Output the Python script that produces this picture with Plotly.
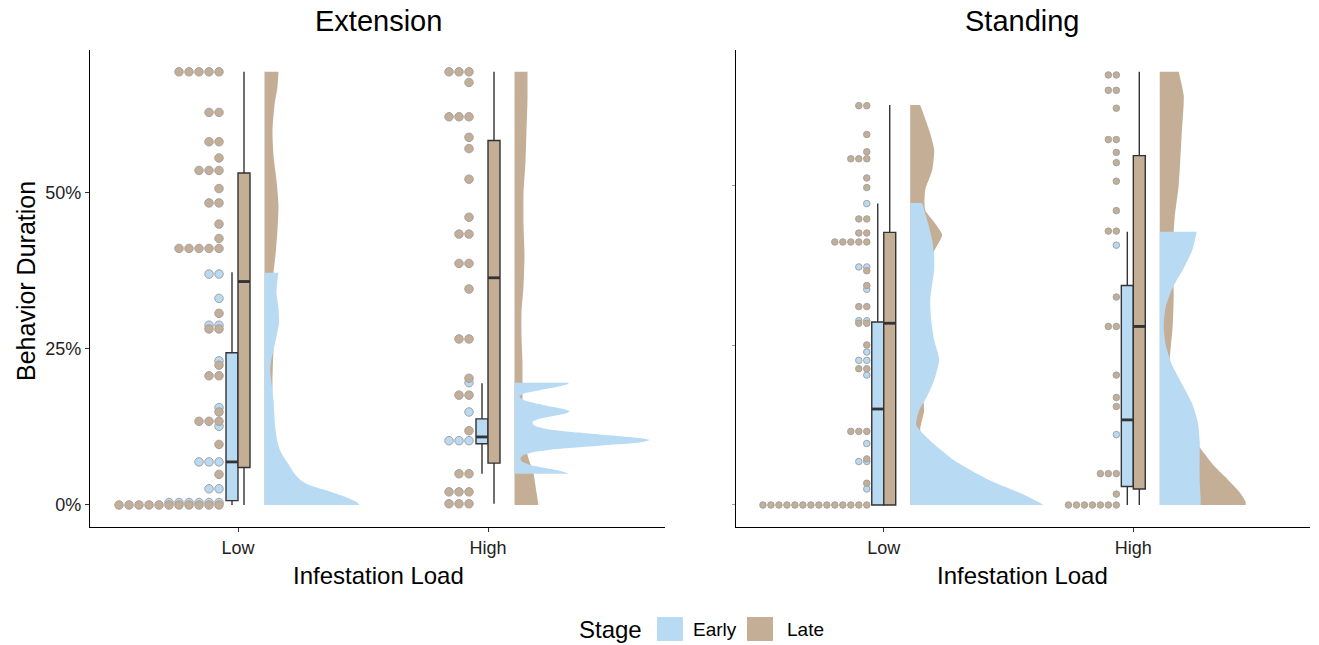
import plotly.graph_objects as go

# ---------------- data (values in percent) ----------------
facets = ["Extension", "Standing"]
categories = ["Low", "High"]
stages = ["Early", "Late"]

# dot plots: bin levels and number of dots per level
ext_low_early_lv = [37.0, 33.1, 28.8, 23.1, 15.6, 12.6, 6.9, 2.6, 0.4]
ext_low_early_n = [2, 1, 2, 1, 1, 1, 3, 2, 6]
ext_low_late_lv = [69.4, 62.9, 58.2, 55.6, 53.6, 50.7, 48.4, 45.0, 42.7, 41.1,
                   30.7, 28.2, 22.4, 20.7, 14.9, 13.4, 9.7, 4.9, 0.0]
ext_low_late_n = [5, 2, 2, 1, 3, 1, 2, 1, 1, 5, 1, 2, 1, 2, 1, 3, 1, 1, 11]
ext_high_early_lv = [19.6, 14.9, 10.3]
ext_high_early_n = [1, 1, 3]
ext_high_late_lv = [69.4, 67.7, 62.2, 58.9, 57.1, 52.2, 46.1, 43.4, 38.7, 34.6,
                    26.6, 20.3, 17.6, 11.9, 5.0, 2.1, 0.2]
ext_high_late_n = [3, 1, 3, 1, 1, 1, 1, 2, 2, 1, 2, 1, 2, 1, 2, 3, 3]

std_low_early_lv = [47.1, 37.2, 33.7, 28.8, 23.9, 22.6, 20.3, 9.6, 6.8, 2.5]
std_low_early_n = [1, 2, 1, 2, 1, 2, 1, 1, 2, 1]
std_low_late_lv = [62.4, 57.9, 55.2, 54.1, 51.1, 49.6, 44.7, 42.5, 41.1, 36.6,
                   34.3, 31.0, 28.4, 25.0, 21.3, 11.5, 7.2, 3.4, 0.0]
std_low_late_n = [2, 1, 1, 3, 1, 1, 2, 2, 5, 1, 1, 2, 2, 1, 2, 3, 1, 1, 14]
std_high_early_lv = [40.6, 11.0]
std_high_early_n = [1, 1]
std_high_late_lv = [67.2, 64.8, 62.0, 57.1, 55.1, 53.5, 50.6, 46.0, 42.8, 32.5,
                    27.9, 20.3, 16.8, 15.4, 4.9, 1.7, 0.0]
std_high_late_n = [2, 2, 1, 2, 1, 1, 1, 1, 2, 1, 2, 1, 1, 1, 3, 1, 7]

# box statistics: lower whisker, q1, median, q3, upper whisker
ext_low_early_box = [0.0, 0.7, 6.9, 24.4, 37.3]
ext_low_late_box = [0.0, 6.0, 35.8, 53.2, 69.4]
ext_high_early_box = [5.0, 9.8, 10.9, 13.8, 19.5]
ext_high_late_box = [0.2, 6.7, 36.4, 58.4, 69.4]
std_low_early_box = [0.0, 0.0, 15.0, 28.6, 47.1]
std_low_late_box = [0.0, 0.0, 28.4, 42.6, 62.5]
std_high_early_box = [0.0, 2.9, 13.3, 34.3, 42.7]
std_high_late_box = [0.0, 2.5, 27.9, 54.6, 67.7]

# half-violin densities: y grid and relative density
ext_low_early_dy = [0, 0.5, 1, 1.5, 2, 2.5, 3, 3.5, 4, 5, 6, 7, 8, 9, 10.5, 12, 14,
                    16.8, 19, 21.6, 23, 24.8, 27, 29.2, 31.5, 34, 36, 37.2]
ext_low_early_d = [95, 92, 85, 77, 68, 58, 48, 41, 36, 30, 26, 22, 18, 15, 12.5, 11,
                   10, 9, 7.5, 5.7, 6.5, 9, 12, 14.5, 14, 12, 13, 14]
ext_low_late_dy = [0, 3, 6, 10, 15, 20, 25, 30, 34, 37, 40, 44, 48, 52, 56, 60, 64, 67, 69.4]
ext_low_late_d = [40, 28, 18, 11, 8, 8, 9, 11, 10, 9, 11, 13, 14, 12, 9, 8, 10, 13, 14]
ext_high_early_dy = [5.0, 5.5, 6.0, 6.5, 7.0, 7.5, 8.0, 8.5, 9.0, 9.5, 10.0, 10.4, 10.8,
                     11.3, 11.8, 12.3, 12.8, 13.3, 13.8, 14.3, 14.7, 15.0, 15.4, 15.9,
                     16.4, 16.9, 17.4, 17.9, 18.4, 18.9, 19.3, 19.6]
ext_high_early_d = [55, 45, 28, 14, 7, 6, 9, 20, 45, 85, 125, 135, 120, 85, 50, 28, 19,
                    18, 25, 40, 52, 55, 48, 32, 18, 8, 5, 10, 25, 42, 52, 55]
ext_high_late_dy = [0, 2, 5, 8, 11, 14, 17, 20, 23, 27, 31, 35, 40, 45, 50, 55, 60, 65, 69.4]
ext_high_late_d = [24, 22, 19, 13, 10, 8, 8, 8, 8, 7, 7, 9, 10, 9, 9, 11, 12, 13, 13]
std_low_early_dy = [0, 1.6, 3.9, 7.0, 10.2, 12.5, 14.8, 17, 19.5, 22.7, 25.8, 29, 32,
                    34.5, 36.7, 39, 41.4, 44, 47.2]
std_low_early_d = [134, 114, 79, 44, 19, 6, 9, 17, 24, 29, 24, 21, 20, 22, 24, 24, 22,
                   18, 12]
std_low_late_dy = [0, 5, 10, 11.7, 14.8, 18, 22, 27.3, 33.6, 37, 39.1, 42.2, 44, 46.1,
                   49.2, 52.3, 55.5, 58.6, 62.5]
std_low_late_d = [60, 30, 14, 10, 14, 12, 11, 12, 15, 19, 22, 32, 25, 15, 15, 22, 24,
                  19, 10]
std_high_early_dy = [0, 1, 4, 7, 10, 13, 16, 19, 22, 25, 28, 31, 34, 37, 40, 42.7]
std_high_early_d = [41, 41, 40, 40, 40, 38, 32, 22, 12, 6, 4, 6, 13, 24, 33, 37]
std_high_late_dy = [0, 0.5, 2, 4, 6, 9, 12, 16, 22, 28, 33, 38, 42.7, 45, 50, 58, 64, 67.7]
std_high_late_d = [86, 86, 80, 68, 55, 40, 25, 15, 10, 13, 14, 13, 14, 15, 19, 22, 24, 19]

groups = {
    ("Extension", "Low", "Early"): (ext_low_early_lv, ext_low_early_n, ext_low_early_box, ext_low_early_dy, ext_low_early_d),
    ("Extension", "Low", "Late"): (ext_low_late_lv, ext_low_late_n, ext_low_late_box, ext_low_late_dy, ext_low_late_d),
    ("Extension", "High", "Early"): (ext_high_early_lv, ext_high_early_n, ext_high_early_box, ext_high_early_dy, ext_high_early_d),
    ("Extension", "High", "Late"): (ext_high_late_lv, ext_high_late_n, ext_high_late_box, ext_high_late_dy, ext_high_late_d),
    ("Standing", "Low", "Early"): (std_low_early_lv, std_low_early_n, std_low_early_box, std_low_early_dy, std_low_early_d),
    ("Standing", "Low", "Late"): (std_low_late_lv, std_low_late_n, std_low_late_box, std_low_late_dy, std_low_late_d),
    ("Standing", "High", "Early"): (std_high_early_lv, std_high_early_n, std_high_early_box, std_high_early_dy, std_high_early_d),
    ("Standing", "High", "Late"): (std_high_late_lv, std_high_late_n, std_high_late_box, std_high_late_dy, std_high_late_d),
}

# ---------------- styling ----------------
COLORS = {"Early": "#B8DAF2", "Late": "#C4AE96"}
DOT_EDGE = "#A3A3A3"
BOX_LINE = "#333333"
FONT = "Liberation Sans"
cat_x = {"Low": 1.0, "High": 2.0}
panel_axes = {"Extension": ("x", "y"), "Standing": ("x2", "y2")}
dot_cfg = {"Extension": dict(offset=0.076, step=0.040, size=8.5),
           "Standing": dict(offset=0.068, step=0.032, size=6.5)}
BOX_W = 0.048
VIO_OFF = 0.106
VIO_SCALE = 1 / 250.0

fig = go.Figure()

for facet in facets:
    xa, ya = panel_axes[facet]
    # violins (late underneath, early on top)
    for stage in ["Late", "Early"]:
        for cat in categories:
            lv, n, box, dy, d = groups[(facet, cat, stage)]
            base = cat_x[cat] + VIO_OFF
            outer = [base + v * VIO_SCALE for v in d]
            xs = [base, base, outer[0]] + outer + [outer[-1], base, base]
            ys = [dy[0], dy[0], dy[0]] + list(dy) + [dy[-1], dy[-1], dy[-1]]
            fig.add_trace(go.Scatter(x=xs, y=ys, xaxis=xa, yaxis=ya, mode="lines",
                                     fill="toself", fillcolor=COLORS[stage],
                                     line=dict(width=0, color=COLORS[stage],
                                               shape="spline", smoothing=0.6),
                                     hoverinfo="skip", showlegend=False))
    # boxes
    for cat in categories:
        for stage in stages:
            lv, n, box, dy, d = groups[(facet, cat, stage)]
            pos = cat_x[cat] + (-BOX_W / 2 if stage == "Early" else BOX_W / 2)
            fig.add_trace(go.Box(x=[pos], lowerfence=[box[0]], q1=[box[1]], median=[box[2]],
                                 q3=[box[3]], upperfence=[box[4]], width=BOX_W,
                                 fillcolor=COLORS[stage], line=dict(color=BOX_LINE, width=1.4),
                                 whiskerwidth=0, boxpoints=False, xaxis=xa, yaxis=ya,
                                 hoverinfo="skip", showlegend=False))
            fig.add_trace(go.Scatter(x=[pos - BOX_W / 2, pos + BOX_W / 2], y=[box[2], box[2]],
                                     xaxis=xa, yaxis=ya, mode="lines",
                                     line=dict(color=BOX_LINE, width=2.8),
                                     hoverinfo="skip", showlegend=False))
    # dots (early first, late on top)
    cfg = dot_cfg[facet]
    for stage in stages:
        xs, ys = [], []
        for cat in categories:
            lv, n, box, dy, d = groups[(facet, cat, stage)]
            for level, count in zip(lv, n):
                for k in range(count):
                    xs.append(cat_x[cat] - cfg["offset"] - k * cfg["step"])
                    ys.append(level)
        fig.add_trace(go.Scatter(x=xs, y=ys, xaxis=xa, yaxis=ya, mode="markers",
                                 marker=dict(size=cfg["size"], color=COLORS[stage],
                                             line=dict(color=DOT_EDGE, width=1)),
                                 hoverinfo="skip", showlegend=False))

# ---------------- layout ----------------
W, H = 1319, 645
ML, MR, MT, MB = 90, 9, 50, 118
PW, PH = W - ML - MR, H - MT - MB


def px(xp):
    return (xp - ML) / PW


def py(yp):
    return (H - MB - yp) / PH


TICK_FONT = dict(family=FONT, size=18, color="#222222")
xcommon = dict(range=[0.408, 2.708], tickvals=[1, 2], ticktext=categories,
               showline=True, linecolor="black", linewidth=1.4, ticks="outside",
               ticklen=4, tickcolor="#333333", showgrid=False, zeroline=False,
               tickfont=TICK_FONT)
fig.update_layout(
    width=W, height=H, margin=dict(l=ML, r=MR, t=MT, b=MB),
    paper_bgcolor="white", plot_bgcolor="white", boxmode="overlay",
    xaxis=dict(domain=[0, px(665)], anchor="y", **xcommon),
    xaxis2=dict(domain=[px(736), 1], anchor="y2", **xcommon),
    yaxis=dict(domain=[0, 1], anchor="x", range=[-3.53, 72.9], tickvals=[0, 25, 50],
               ticktext=["0%", "25%", "50%"], showline=True, linecolor="black",
               linewidth=1.4, ticks="outside", ticklen=4, tickcolor="#333333",
               showgrid=False, zeroline=False, tickfont=TICK_FONT),
    yaxis2=dict(domain=[0, 1], anchor="x2", range=[-3.44, 71.1], tickvals=[0, 25, 50],
                showticklabels=False, showline=True, linecolor="black", linewidth=1.4,
                ticks="outside", ticklen=3, tickcolor="#999999",
                showgrid=False, zeroline=False),
)

ann = []
for facet, cx in [("Extension", 378), ("Standing", 1022)]:
    ann.append(dict(text=facet, x=px(cx), y=py(21), xref="paper", yref="paper",
                    showarrow=False, xanchor="center", yanchor="middle",
                    font=dict(family=FONT, size=29, color="black")))
for cx in [378, 1022]:
    ann.append(dict(text="Infestation Load", x=px(cx), y=py(575), xref="paper", yref="paper",
                    showarrow=False, xanchor="center", yanchor="middle",
                    font=dict(family=FONT, size=24, color="black")))
ann.append(dict(text="Behavior Duration", x=px(26), y=py(281), xref="paper", yref="paper",
                showarrow=False, xanchor="center", yanchor="middle", textangle=-90,
                font=dict(family=FONT, size=25, color="black")))
# legend
ann.append(dict(text="Stage", x=px(577), y=py(629), xref="paper", yref="paper",
                showarrow=False, xanchor="left", yanchor="middle",
                font=dict(family=FONT, size=24, color="black")))
shapes = []
for stage, kx, tx in [("Early", 657, 691), ("Late", 747, 785)]:
    shapes.append(dict(type="rect", xref="paper", yref="paper", x0=px(kx), x1=px(kx + 26),
                       y0=py(641), y1=py(617), fillcolor=COLORS[stage], line=dict(width=0)))
    ann.append(dict(text=stage, x=px(tx), y=py(629), xref="paper", yref="paper",
                    showarrow=False, xanchor="left", yanchor="middle",
                    font=dict(family=FONT, size=19, color="black")))
fig.update_layout(annotations=ann, shapes=shapes)

fig.write_html("out.html")
